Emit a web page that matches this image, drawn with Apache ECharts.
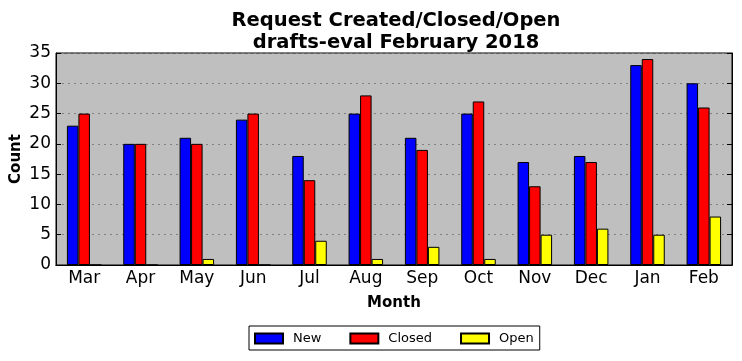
<!DOCTYPE html>
<html><head><meta charset="utf-8">
<script src="https://cdn.jsdelivr.net/npm/echarts@6/dist/echarts.min.js"></script>
<style>html,body{margin:0;padding:0;background:#fff}#c{width:742px;height:361px}</style>
</head><body><div id="c"></div>
<script>
const months = ['Mar','Apr','May','Jun','Jul','Aug','Sep','Oct','Nov','Dec','Jan','Feb'];
const newVals = [23,20,21,24,18,25,21,25,17,18,33,30];
const closedVals = [25,20,20,25,14,28,19,27,13,17,34,26];
const openVals = [0,0,1,0,4,1,3,1,5,6,5,8];
const yTicks = [0,5,10,15,20,25,30,35];

const font = 'DejaVu Sans';
const chart = echarts.init(document.getElementById('c'));
const barStyle = c => ({color:c, borderColor:'#000', borderWidth:1});
chart.setOption({
  animation:false,
  textStyle:{fontFamily:font},
  title:{text:'Request Created/Closed/Open\ndrafts-eval February 2018', left:391, textAlign:'center', top:5,
    textStyle:{fontFamily:font, fontWeight:'bold', fontSize:19.5, color:'#000', lineHeight:22}},
  legend:{top:326, left:249, itemWidth:28, itemHeight:10, itemGap:28, icon:'rect',
    borderColor:'#000', borderWidth:1, padding:[6,6,5,5],
    textStyle:{fontFamily:font, fontSize:13, color:'#000', padding:[0,0,0,5]},
    data:['New','Closed','Open']},
  grid:{left:56, right:10, top:53, bottom:96, outerBoundsMode:'none', containLabel:false, show:true, backgroundColor:'#bfbfbf', borderColor:'#000', borderWidth:1},
  xAxis:[{type:'category', data:months, name:'Month', nameLocation:'middle', nameGap:31,
    nameTextStyle:{fontFamily:font, fontWeight:'bold', fontSize:15, color:'#000'},
    axisLine:{lineStyle:{color:'#000'}}, axisTick:{inside:true, alignWithLabel:true, length:5, lineStyle:{color:'#000'}},
    axisLabel:{fontFamily:font, fontSize:17, color:'#000', margin:5}},
   {type:'category', data:months, position:'top', axisLine:{lineStyle:{color:'#000'}},
    axisTick:{inside:true, alignWithLabel:true, length:5, lineStyle:{color:'#000'}}, axisLabel:{show:false}}],
  yAxis:[{type:'value', min:0, max:35, interval:5, name:'Count', nameLocation:'middle', nameGap:32, nameMoveOverlap:false,
    nameTextStyle:{fontFamily:font, fontWeight:'bold', fontSize:15, color:'#000'},
    axisLine:{show:true, lineStyle:{color:'#000'}}, axisTick:{show:true, inside:true, length:5, lineStyle:{color:'#000'}},
    axisLabel:{fontFamily:font, fontSize:17, color:'#000', margin:5},
    splitLine:{show:true, lineStyle:{color:'#808080', type:[2,4]}}},
   {type:'value', min:0, max:35, interval:5, position:'right', axisLine:{show:true, lineStyle:{color:'#000'}},
    axisTick:{show:true, inside:true, length:5, lineStyle:{color:'#000'}}, axisLabel:{show:false}, splitLine:{show:false}}],
  series:[
    {name:'New', type:'bar', data:newVals, barWidth:11.5, barGap:'0%', itemStyle:barStyle('#0000ff')},
    {name:'Closed', type:'bar', data:closedVals, barWidth:11.5, barGap:'0%', itemStyle:barStyle('#ff0000')},
    {name:'Open', type:'bar', data:openVals, barWidth:11.5, barGap:'0%', itemStyle:barStyle('#ffff00')}
  ]
});
</script></body></html>
